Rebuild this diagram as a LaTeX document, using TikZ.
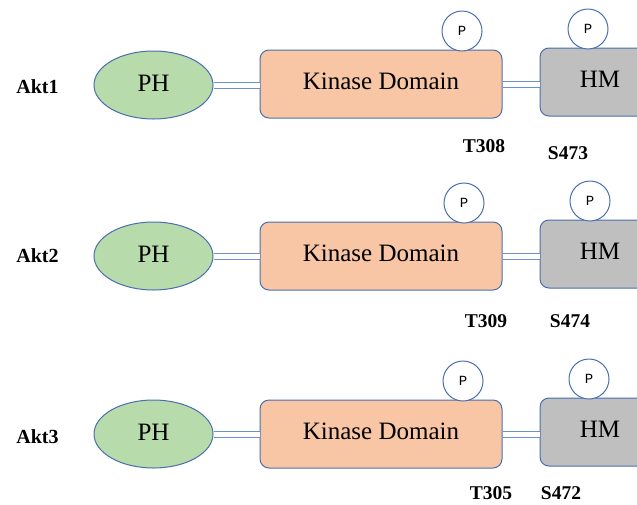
\documentclass[tikz,border=0pt]{standalone}
\usepackage{fontspec}
\setmainfont{Liberation Serif}[BoldFont={Liberation Serif Bold}]
\newfontfamily\pmono{Liberation Mono}
\usetikzlibrary{shapes.geometric}
\definecolor{edgeblue}{HTML}{4A6FAE}
\definecolor{linkblue}{HTML}{6A92D0}
\definecolor{phgreen}{HTML}{B7DBAA}
\definecolor{kdpeach}{HTML}{F8C6A4}
\definecolor{hmgray}{HTML}{BFBFBF}
\tikzset{
  bigfont/.style={font=\fontsize{25}{25}\selectfont},
  phshape/.style={ellipse, draw=edgeblue, line width=1pt, fill=phgreen, minimum width=119pt, minimum height=68pt, inner sep=0pt, bigfont},
  kdshape/.style={rectangle, rounded corners=9pt, draw=edgeblue, line width=1pt, fill=kdpeach, minimum width=242pt, minimum height=68pt, inner sep=0pt, bigfont},
  hmshape/.style={rectangle, rounded corners=9pt, draw=edgeblue, line width=1pt, fill=hmgray, minimum width=120pt, minimum height=68pt, inner sep=0pt, bigfont},
  pcircle/.style={circle, draw=edgeblue, line width=1pt, fill=white, minimum size=40pt, inner sep=0pt, font=\pmono\fontsize{14}{14}\selectfont},
  link/.style={draw=linkblue, line width=1pt, double=white, double distance=5pt},
  aktlabel/.style={font=\bfseries\fontsize{20}{20}\selectfont},
  sitelabel/.style={font=\bfseries\fontsize{19.5}{19.5}\selectfont},
}
\begin{document}
\begin{tikzpicture}[x=1pt,y=-1pt]
\useasboundingbox (0,0) rectangle (637,504);
\clip (0,0) rectangle (637,504);
% Row 1
\node[aktlabel] (akt1) at (37.5,87) {Akt1};
\node[phshape] (ph1) at (153.5,85) {\raisebox{3pt}{PH}};
\node[kdshape] (kd1) at (381,84) {\raisebox{6pt}{Kinase Domain}};
\node[hmshape] (hm1) at (600,82) {\raisebox{5pt}{HM}\hspace{24pt}};
\draw[link] (ph1.east) -- (ph1.east -| kd1.west);
\draw[link] (kd1.east) -- (kd1.east -| hm1.west);
\node[pcircle] (pk1) at (462,31) {P};
\node[pcircle] (ph1p) at (588,29) {P};
\node[sitelabel] (t1) at (484,146) {T308};
\node[sitelabel] (s1) at (568,153) {S473};
% Row 2
\node[aktlabel] (akt2) at (37.5,256) {Akt2};
\node[phshape] (ph2) at (153.5,256) {\raisebox{3pt}{PH}};
\node[kdshape] (kd2) at (381,256) {\raisebox{6pt}{Kinase Domain}};
\node[hmshape] (hm2) at (600,254) {\raisebox{5pt}{HM}\hspace{24pt}};
\draw[link] (ph2.east) -- (ph2.east -| kd2.west);
\draw[link] (kd2.east) -- (kd2.east -| hm2.west);
\node[pcircle] (pk2) at (464,203) {P};
\node[pcircle] (ph2p) at (590,201) {P};
\node[sitelabel] (t2) at (486,321) {T309};
\node[sitelabel] (s2) at (570,321) {S474};
% Row 3
\node[aktlabel] (akt3) at (37.5,437) {Akt3};
\node[phshape] (ph3) at (153.5,434) {\raisebox{3pt}{PH}};
\node[kdshape] (kd3) at (381,434) {\raisebox{6pt}{Kinase Domain}};
\node[hmshape] (hm3) at (600,432) {\raisebox{5pt}{HM}\hspace{24pt}};
\draw[link] (ph3.east) -- (ph3.east -| kd3.west);
\draw[link] (kd3.east) -- (kd3.east -| hm3.west);
\node[pcircle] (pk3) at (463,381) {P};
\node[pcircle] (ph3p) at (589,379) {P};
\node[sitelabel] (t3) at (491,493) {T305};
\node[sitelabel] (s3) at (561,493) {S472};
\end{tikzpicture}
\end{document}
